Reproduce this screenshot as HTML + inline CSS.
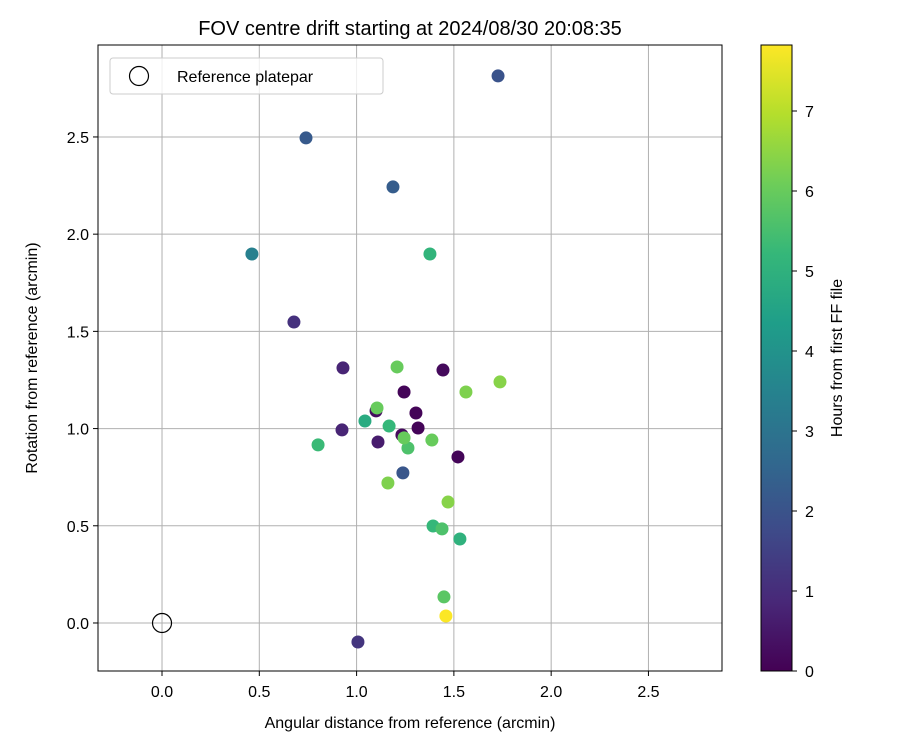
<!DOCTYPE html>
<html><head><meta charset="utf-8"><style>body{margin:0;background:#fff}svg{font-family:"Liberation Sans","DejaVu Sans",sans-serif}</style></head>
<body>
<svg id="chart" width="900" height="750"></svg>
<script>
const xs=[1.727,0.740,1.187,0.462,1.377,0.678,1.449,1.459,1.007,0.930,1.208,1.444,1.737,1.562,1.244,1.305,1.100,1.105,1.043,1.167,1.316,0.925,1.233,1.244,0.802,1.110,1.264,1.387,1.521,1.238,1.161,1.470,1.393,1.439,1.531];
const ys=[2.814,2.495,2.243,1.898,1.898,1.548,0.134,0.036,-0.098,1.312,1.317,1.301,1.240,1.188,1.188,1.080,1.091,1.106,1.039,1.013,1.003,0.993,0.967,0.952,0.916,0.931,0.900,0.941,0.854,0.772,0.720,0.622,0.499,0.484,0.432];
const hours=[2.0,2.2,2.3,3.4,5.1,1.1,5.8,7.8,1.2,0.8,6.0,0.2,6.4,6.3,0.1,0.1,0.3,6.0,4.8,5.2,0.1,0.8,0.2,6.0,5.3,0.6,5.6,6.0,0.1,2.1,6.3,6.4,5.2,5.6,5.0];
const xTicks=[0,0.5,1,1.5,2,2.5];
const yTicks=[0,0.5,1,1.5,2,2.5];
const cTicks=[0,1,2,3,4,5,6,7];
const NS="http://www.w3.org/2000/svg",svg=document.getElementById('chart');
const L=98,R=722,T=45,B=671;
const xMin=-0.329,xMax=2.878,yMin=-0.247,yMax=2.973,hMax=7.825;
const X=v=>L+(v-xMin)/(xMax-xMin)*(R-L);
const Y=v=>B-(v-yMin)/(yMax-yMin)*(B-T);
const CB=v=>B-v/hMax*(B-T);
function mk(t,a,p){const e=document.createElementNS(NS,t);for(const k in a)e.setAttribute(k,a[k]);(p||svg).appendChild(e);return e;}
const vir=[[68,1,84],[72,40,120],[62,74,137],[49,104,142],[38,130,142],[31,158,137],[53,183,121],[109,205,89],[180,222,44],[253,231,37]];
function col(h){let t=Math.max(0,Math.min(1,h/hMax))*(vir.length-1);let i=Math.min(Math.floor(t),vir.length-2),f=t-i;const c=vir[i].map((v,k)=>Math.round(v+(vir[i+1][k]-v)*f));return `rgb(${c})`;}
xTicks.forEach(v=>{const g=mk('line',{x1:X(v),x2:X(v),y1:T,y2:B,stroke:'#b0b0b0','stroke-width':1});
 const tk=mk('line',{x1:X(v),x2:X(v),y1:B,y2:B+5,stroke:'#000'});
 const t=mk('text',{x:X(v),y:B+26,'text-anchor':'middle','font-size':16});t.textContent=v.toFixed(1);});
yTicks.forEach(v=>{const g=mk('line',{x1:L,x2:R,y1:Y(v),y2:Y(v),stroke:'#b0b0b0','stroke-width':1});
 const tk=mk('line',{x1:L-5,x2:L,y1:Y(v),y2:Y(v),stroke:'#000'});
 const t=mk('text',{x:L-9,y:Y(v)+6,'text-anchor':'end','font-size':16});t.textContent=v.toFixed(1);});
const rc=mk('circle',{cx:X(0),cy:Y(0),r:9.5,fill:'none',stroke:'#000','stroke-width':1.2});

const idx=hours.map((h,i)=>i).sort((a,b)=>hours[a]-hours[b]);
idx.forEach(i=>{const c=mk('circle',{cx:X(xs[i]),cy:Y(ys[i]),r:6.5,fill:col(hours[i])});});
const fr=mk('rect',{x:L,y:T,width:R-L,height:B-T,fill:'none',stroke:'#000','stroke-width':1});
const defs=mk('defs',{});const gr=mk('linearGradient',{id:'vg',x1:0,y1:1,x2:0,y2:0},defs);
vir.forEach((c,i)=>mk('stop',{offset:i/(vir.length-1),'stop-color':`rgb(${c})`},gr));
const cb=mk('rect',{x:761,y:T,width:31,height:B-T,fill:'url(#vg)',stroke:'#000','stroke-width':1});
cTicks.forEach(v=>{const tk=mk('line',{x1:792,x2:797,y1:CB(v),y2:CB(v),stroke:'#000'});
 const t=mk('text',{x:805,y:CB(v)+6,'font-size':16});t.textContent=v;});
</script>
<svg width="900" height="750" style="position:absolute;left:0;top:0;pointer-events:none">
<text x="410" y="35" text-anchor="middle" font-size="20">FOV centre drift starting at 2024/08/30 20:08:35</text>
<text x="410" y="728" text-anchor="middle" font-size="16">Angular distance from reference (arcmin)</text>
<text transform="translate(37,358) rotate(-90)" text-anchor="middle" font-size="16">Rotation from reference (arcmin)</text>
<text transform="translate(842,358) rotate(-90)" text-anchor="middle" font-size="16">Hours from first FF file</text>
<g>
<rect x="110" y="58" width="273" height="36" rx="3" fill="#fff" fill-opacity="0.8" stroke="#ccc"/>
<circle cx="139" cy="76" r="9.5" fill="none" stroke="#000" stroke-width="1.2"/>
<text x="177" y="82" font-size="16">Reference platepar</text>
</g>
</svg>
</body></html>
